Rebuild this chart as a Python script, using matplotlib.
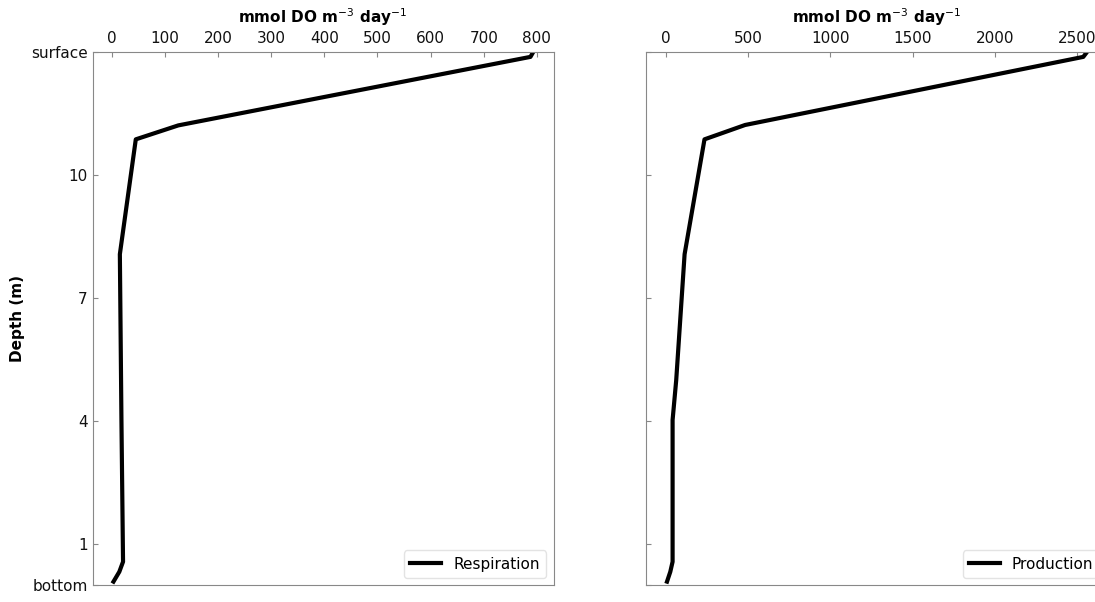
import matplotlib
matplotlib.use("Agg")
import matplotlib.pyplot as plt

# Vertical profiles (height above bottom, m) of respiration and production
resp_depth = [0.09, 0.33, 0.575, 4.0, 8.07, 10.87, 11.21, 12.88, 12.97]
resp_rate = [3, 14, 21, 18, 15, 45, 125, 788, 792]

prod_depth = [0.09, 0.33, 0.575, 4.03, 5.0, 8.07, 10.87, 11.22, 12.88, 12.97]
prod_rate = [6, 26, 40, 40, 62, 113, 234, 481, 2538, 2555]

ytick_pos = [13, 10, 7, 4, 1, 0]
ytick_labels = ["surface", "10", "7", "4", "1", "bottom"]

plt.rcParams["font.family"] = "DejaVu Sans"
plt.rcParams["font.size"] = 11

fig = plt.figure(figsize=(10.95, 6.02), dpi=100)
ax1 = fig.add_axes([0.0845, 0.0277, 0.421, 0.886])
ax2 = fig.add_axes([0.590, 0.0277, 0.421, 0.886])

spine_col = "#888888"
xlabel = r"mmol DO m$^{-3}$ day$^{-1}$"

for ax, x, y, lab in [(ax1, resp_rate, resp_depth, "Respiration"),
                      (ax2, prod_rate, prod_depth, "Production")]:
    ax.plot(x, y, color="black", lw=3, label=lab)
    ax.set_ylim(0, 13)
    ax.set_yticks(ytick_pos)
    ax.xaxis.tick_top()
    ax.xaxis.set_label_position("top")
    ax.set_xlabel(xlabel, fontweight="bold", fontsize=11, labelpad=5.5)
    ax.tick_params(direction="in", color=spine_col, labelcolor="#111111",
                   labelsize=11)
    ax.tick_params(axis="x", pad=4.5)
    for s in ax.spines.values():
        s.set_color(spine_col)
    leg = ax.legend(loc="lower right", fontsize=11, handlelength=2.0)
    leg.get_frame().set_edgecolor("#dddddd")

ax1.set_xticks([0, 100, 200, 300, 400, 500, 600, 700, 800])
ax1.set_yticklabels(ytick_labels)
ax1.set_ylabel("Depth (m)", fontweight="bold", fontsize=11)
ax2.set_xticks([0, 500, 1000, 1500, 2000, 2500])
ax2.set_yticklabels([])

fig.savefig("out.png", dpi=100)
